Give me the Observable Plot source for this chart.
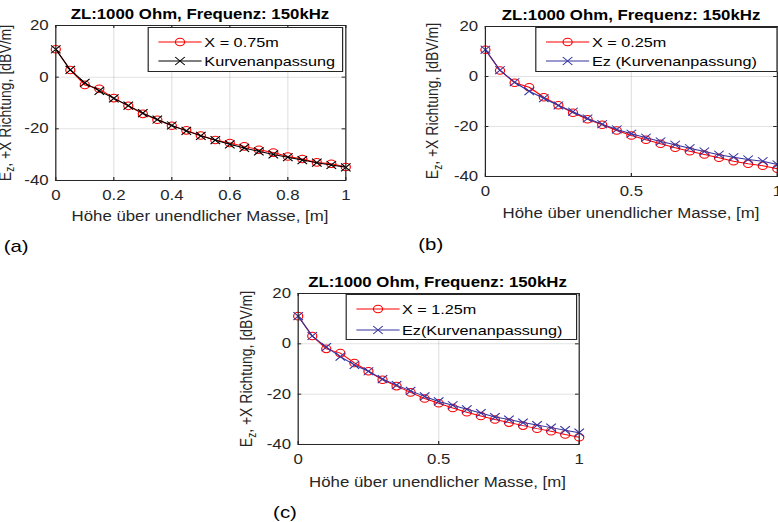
<!DOCTYPE html>
<html>
<head>
<meta charset="utf-8">
<script src="https://cdn.jsdelivr.net/npm/d3@7"></script>
<script src="https://cdn.jsdelivr.net/npm/@observablehq/plot@0.6"></script>
<style>
  html, body { margin: 0; padding: 0; background: #fff; overflow: hidden; }
  #page {
    position: relative; width: 648.33px; height: 522px;
    transform: scaleX(1.2); transform-origin: 0 0;
    font-family: "Liberation Sans", Arial, Helvetica, sans-serif; color: #262626;
  }
  .abs { position: absolute; white-space: nowrap; line-height: 1; }
  .ctr { transform: translate(-50%, -50%); }
  .title { font-weight: bold; font-size: 14px; color: #000; }
  .xlab { font-size: 14px; }
  .ylab { font-size: 14px; transform: translate(-50%, -50%) rotate(-90deg); }
  .ylab sub { font-size: 10px; vertical-align: -3px; line-height: 0; }
  .tag { font-size: 17px; color: #000; }
  .legend { position: absolute; border: 1px solid #262626; background: #fff; box-sizing: border-box; }
  .legrow { position: absolute; left: 0; height: 16px; display: flex; align-items: center; }
  .legrow span { font-size: 13.5px; color: #000; position: absolute; white-space: nowrap; }
</style>
</head>
<body>
<div id="page"></div>
<script>
// ---- data ----
const heights = [0, 0.05, 0.1, 0.15, 0.2, 0.25, 0.3, 0.35, 0.4, 0.45, 0.5, 0.55, 0.6, 0.65, 0.7, 0.75, 0.8, 0.85, 0.9, 0.95, 1.0];

const measA = [10.8, 2.8, -3.0, -4.5, -8.1, -11.1, -14.2, -16.5, -18.8, -20.6, -22.6, -24.3, -25.5, -26.8, -28.1, -29.2, -30.7, -31.7, -33.0, -33.5, -34.8];
const fitA  = [10.8, 2.8, -2.2, -5.3, -8.2, -11.0, -13.9, -16.4, -18.7, -20.8, -22.7, -24.4, -26.0, -27.4, -28.7, -29.9, -31.0, -32.1, -33.1, -34.0, -34.9];

const measB = [10.7, 2.4, -2.5, -4.3, -8.3, -11.5, -14.5, -17.1, -19.3, -21.6, -23.6, -25.3, -26.9, -28.5, -29.9, -31.2, -32.5, -33.9, -34.9, -35.7, -36.9];
const fitB  = [10.7, 2.5, -2.3, -5.9, -8.7, -11.6, -14.1, -16.8, -19.1, -21.2, -22.9, -24.5, -26.0, -27.3, -28.7, -30.0, -31.3, -32.3, -33.2, -33.9, -35.2];

const measC = [11.0, 3.1, -2.0, -3.7, -7.6, -10.9, -14.3, -16.8, -19.3, -21.7, -23.6, -25.5, -27.2, -28.7, -30.1, -31.3, -32.5, -33.7, -34.7, -36.0, -37.1];
const fitC  = [11.0, 3.1, -1.3, -5.1, -8.4, -10.9, -14.0, -16.4, -18.7, -20.9, -22.9, -24.4, -26.0, -27.5, -29.1, -30.1, -31.3, -32.3, -33.3, -34.3, -35.3];

const xTicksA = [0, 0.2, 0.4, 0.6, 0.8, 1];
const xTicksBC = [0, 0.5, 1];
const yTicks = [-40, -20, 0, 20];

const titleText = "ZL:1000 Ohm, Frequenz: 150kHz";
const xLabelText = "Höhe über unendlicher Masse, [m]";
const yLabelHtml = "E<sub>z</sub>, +X Richtung, [dBV/m]";
const measLabels = ["X = 0.75m", "X = 0.25m", "X = 1.25m"];
const fitLabels = ["Kurvenanpassung", "Ez (Kurvenanpassung)", "Ez(Kurvenanpassung)"];
const tags = ["(a)", "(b)", "(c)"];

const RED = "#ff0000";
const BLUE = "#3434a0";
const BLACK = "#000000";
const AX = "#262626";

const page = document.getElementById("page");

function addText(cls, html, x, y) {
  const d = document.createElement("div");
  d.className = "abs " + cls;
  d.innerHTML = html;
  d.style.left = x + "px";
  d.style.top = y + "px";
  page.appendChild(d);
  return d;
}

function panel(cfg) {
  const { fl, ft, fw, fh, xticks, meas, fit, fitColor } = cfg;
  const mL = 40, mR = 14, mT = 6, mB = 30;
  const data = heights.map((h, i) => ({ h, m: meas[i], f: fit[i] }));
  const fmt = d => String(d);
  const svg = Plot.plot({
    width: fw + mL + mR, height: fh + mT + mB,
    marginLeft: mL, marginRight: mR, marginTop: mT, marginBottom: mB,
    x: { domain: [0, 1] },
    y: { domain: [-40, 20] },
    style: { fontFamily: '"Liberation Sans", Arial, Helvetica, sans-serif', fontSize: "14px", color: AX, background: "none", overflow: "visible" },
    marks: [
      Plot.gridX(xticks, { stroke: AX, strokeOpacity: 0.13 }),
      Plot.gridY(yTicks, { stroke: AX, strokeOpacity: 0.13 }),
      Plot.axisX(xticks, { tickSize: 0, tickPadding: 10, tickFormat: fmt, label: null }),
      Plot.axisY(yTicks, { tickSize: 0, tickPadding: 6, tickFormat: fmt, label: null }),
      Plot.ruleX(xticks, { stroke: AX, insetTop: fh - 3 }),
      Plot.ruleX(xticks, { stroke: AX, insetBottom: fh - 3 }),
      Plot.ruleY(yTicks, { stroke: AX, insetRight: fw - 3 }),
      Plot.ruleY(yTicks, { stroke: AX, insetLeft: fw - 3 }),
      Plot.line(data, { x: "h", y: "m", stroke: RED, strokeWidth: 1 }),
      Plot.dot(data, { x: "h", y: "m", r: 3.8, stroke: RED, fill: "none", strokeWidth: 1 }),
      Plot.line(data, { x: "h", y: "f", stroke: fitColor, strokeWidth: 1 }),
      Plot.dot(data, { x: "h", y: "f", symbol: "times", r: 3.7, stroke: fitColor, strokeWidth: 1 }),
      Plot.frame({ stroke: AX, strokeWidth: 1 })
    ]
  });
  svg.style.position = "absolute";
  svg.style.left = (fl - mL) + "px";
  svg.style.top = (ft - mT) + "px";
  page.appendChild(svg);

  const cx = fl + fw / 2;
  addText("title ctr", titleText, cx, cfg.titleY);
  addText("xlab ctr", xLabelText, cx, cfg.xlabY);
  addText("ylab", yLabelHtml, cfg.ylabX, ft + fh / 2);
  addText("tag ctr", cfg.tag, cfg.tagX, cfg.tagY);

  // legend
  const lg = document.createElement("div");
  lg.className = "legend";
  lg.style.left = cfg.lg[0] + "px";
  lg.style.top = cfg.lg[1] + "px";
  lg.style.width = cfg.lg[2] + "px";
  lg.style.height = cfg.lg[3] + "px";
  const rows = [
    { y: cfg.rowY[0], label: cfg.measLabel, color: RED, kind: "o" },
    { y: cfg.rowY[1], label: cfg.fitLabel, color: fitColor, kind: "x" }
  ];
  rows.forEach(r => {
    const row = document.createElement("div");
    row.className = "legrow";
    row.style.top = (r.y - 8) + "px";
    row.style.width = "100%";
    const ns = "http://www.w3.org/2000/svg";
    const s = document.createElementNS(ns, "svg");
    s.setAttribute("width", 40); s.setAttribute("height", 16);
    s.style.position = "absolute"; s.style.left = "6px"; s.style.top = "0px"; s.style.overflow = "visible";
    const ln = document.createElementNS(ns, "line");
    ln.setAttribute("x1", 2); ln.setAttribute("x2", 38); ln.setAttribute("y1", 8); ln.setAttribute("y2", 8);
    ln.setAttribute("stroke", r.color); ln.setAttribute("stroke-width", 1);
    s.appendChild(ln);
    if (r.kind === "o") {
      const c = document.createElementNS(ns, "circle");
      c.setAttribute("cx", 20); c.setAttribute("cy", 8); c.setAttribute("r", 3.8);
      c.setAttribute("fill", "none"); c.setAttribute("stroke", r.color);
      s.appendChild(c);
    } else {
      const p = document.createElementNS(ns, "path");
      p.setAttribute("d", "M16,4L24,12M16,12L24,4");
      p.setAttribute("stroke", r.color); p.setAttribute("fill", "none");
      s.appendChild(p);
    }
    row.appendChild(s);
    const t = document.createElement("span");
    t.textContent = r.label;
    t.style.left = "46px";
    t.style.top = "1px";
    row.appendChild(t);
    lg.appendChild(row);
  });
  page.appendChild(lg);
}

panel({ fl: 45.8, ft: 25, fw: 241.7, fh: 155, xticks: xTicksA, meas: measA, fit: fitA, fitColor: BLACK,
  titleY: 14, xlabY: 216, ylabX: 3.5, tag: tags[0], tagX: 13.5, tagY: 246,
  lg: [123.3, 27, 162.5, 45], rowY: [14, 33], measLabel: measLabels[0], fitLabel: fitLabels[0] });

panel({ fl: 404.2, ft: 26, fw: 243.3, fh: 150, xticks: xTicksBC, meas: measB, fit: fitB, fitColor: BLUE,
  titleY: 15, xlabY: 213, ylabX: 360, tag: tags[1], tagX: 359, tagY: 244,
  lg: [446.4, 27, 202, 45], rowY: [14, 33], measLabel: measLabels[1], fitLabel: fitLabels[1] });

panel({ fl: 247.5, ft: 293, fw: 234.2, fh: 151, xticks: xTicksBC, meas: measC, fit: fitC, fitColor: BLUE,
  titleY: 282, xlabY: 482, ylabX: 205, tag: tags[2], tagX: 237.5, tagY: 512,
  lg: [288, 294, 192.5, 46], rowY: [14, 35], measLabel: measLabels[2], fitLabel: fitLabels[2] });
</script>
</body>
</html>
